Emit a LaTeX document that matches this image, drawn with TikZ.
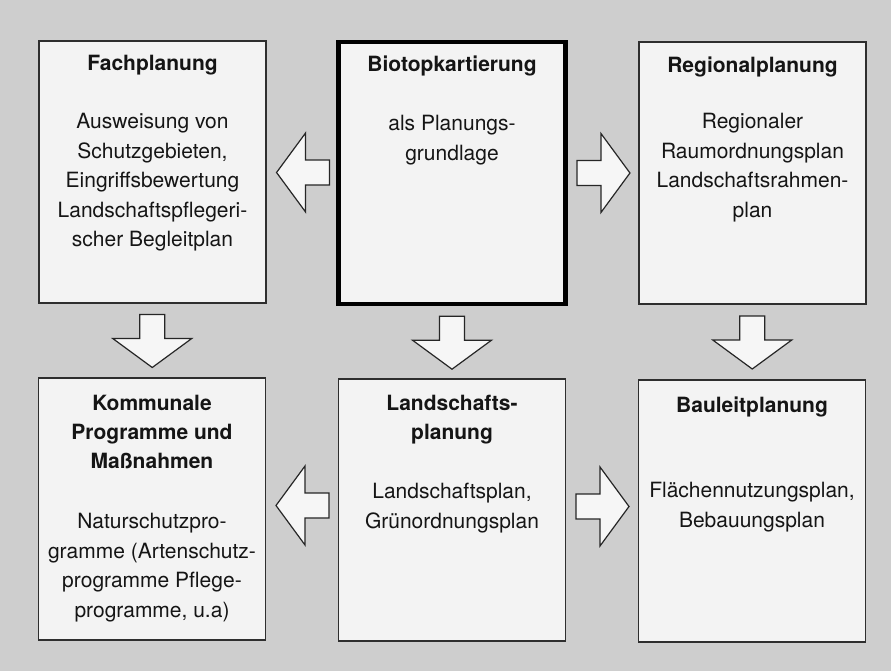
\documentclass[tikz,border=0pt]{standalone}
\usepackage{fontspec}
\setmainfont{TeX Gyre Heros}
\usetikzlibrary{calc}
\definecolor{bggrey}{HTML}{CECECE}
\definecolor{boxfill}{HTML}{F3F3F3}
\definecolor{arrowfill}{HTML}{F6F6F6}
\definecolor{linecol}{HTML}{2E2E2E}
\definecolor{txt}{HTML}{151515}
\tikzset{
  panel/.style={draw=linecol, line width=1.4pt, fill=boxfill, inner sep=0pt,
    minimum width=227pt, minimum height=262pt},
  mainpanel/.style={panel, draw=black, line width=4.2pt},
  ttl/.style={anchor=base, inner sep=0pt, align=center, text=txt,
    font=\fontsize{21}{29}\selectfont\bfseries},
  bdy/.style={anchor=base, inner sep=0pt, align=center, text=txt,
    font=\fontsize{21}{29.5}\selectfont},
  arrowstyle/.style={draw=black!85, line width=1.2pt, fill=arrowfill, line join=miter},
  blockarrow/.pic={
    \draw[arrowstyle] (-26,-12.5) -- (-2,-12.5) -- (-2,-39.5) -- (27,0)
      -- (-2,39.5) -- (-2,12.5) -- (-26,12.5) -- cycle;
  }
}
\begin{document}
\begin{tikzpicture}[x=1pt,y=-1pt]
\useasboundingbox (0,0) rectangle (891,671);
\fill[bggrey] (0,0) rectangle (891,671);

% boxes
\node[panel] (fach) at (152.5,172) {};
\node[mainpanel] (bio) at (452,173) {};
\node[panel] (reg) at (752.5,173) {};
\node[panel] (kom) at (152,509) {};
\node[panel] (land) at (452,510) {};
\node[panel] (bau) at (752,511) {};

% texts
\node[ttl] (fachT) at (152.5,71) {Fachplanung};
\node[bdy,anchor=north] (fachB) at (152.5,113) {Ausweisung von\\Schutzgebieten,\\Eingriffsbewertung\\Landschaftspflegeri-\\scher Begleitplan};

\node[ttl] (bioT) at (452,72) {Biotopkartierung};
\node[bdy,anchor=north] (bioB) at (452,115) {als Planungs-\\grundlage};

\node[ttl] (regT) at (752.5,73) {Regionalplanung};
\node[bdy,anchor=north] (regB) at (752.5,113) {Regionaler\\Raumordnungsplan\\Landschaftsrahmen-\\plan};

\node[ttl,anchor=north] (komT) at (152,395) {Kommunale\\Programme und\\Maßnahmen};
\node[bdy,anchor=north] (komB) at (152,513) {Naturschutzpro-\\gramme (Artenschutz-\\programme Pflege-\\programme, u.a)};

\node[ttl,anchor=north] (landT) at (452,395) {Landschafts-\\planung};
\node[bdy,anchor=north] (landB) at (452,483) {Landschaftsplan,\\Grünordnungsplan};

\node[ttl] (bauT) at (752,412) {Bauleitplanung};
\node[bdy,anchor=north] (bauB) at (752,482) {Flächennutzungsplan,\\Bebauungsplan};

% block arrows
\pic[rotate=180] at ($(bio.west)!0.5!(fach.east)+(2,0)$) {blockarrow};
\pic at ($(bio.east)!0.5!(reg.west)$) {blockarrow};
\pic[rotate=-90] at ($(fach.south)!0.5!(kom.north)$) {blockarrow};
\pic[rotate=-90] at ($(bio.south)!0.5!(land.north)$) {blockarrow};
\pic[rotate=-90] at ($(reg.south)!0.5!(bau.north)$) {blockarrow};
\pic[rotate=180] at ($(land.west)!0.5!(kom.east)+(1,-4)$) {blockarrow};
\pic at ($(land.east)!0.5!(bau.west)+(0,-4)$) {blockarrow};
\end{tikzpicture}
\end{document}
